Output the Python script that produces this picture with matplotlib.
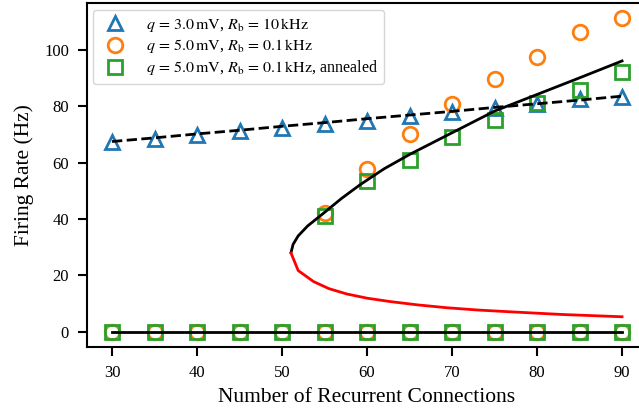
import matplotlib
matplotlib.use("Agg")
import matplotlib.pyplot as plt

plt.rcParams['font.family'] = ['Liberation Serif', 'DejaVu Serif']
plt.rcParams['mathtext.fontset'] = 'stix'

# connection counts where the simulations were run
n_conn = [30, 35, 40, 45, 50, 55, 60, 65, 70, 75, 80, 85, 90]

# q = 3.0 mV, Rb = 10 kHz
rate_a = [67.3, 68.5, 69.9, 71.1, 72.2, 73.6, 74.7, 76.5, 77.9, 79.5, 80.7, 82.5, 83.4]
theory_a = [67.5, 68.8, 70.2, 71.5, 72.9, 74.2, 75.6, 76.9, 78.2, 79.6, 80.9, 82.2, 83.6]

# q = 5.0 mV, Rb = 0.1 kHz (upper state, only above the fold)
n_high = [55, 60, 65, 70, 75, 80, 85, 90]
rate_b = [42.1, 57.8, 70.0, 80.9, 89.6, 97.6, 106.2, 111.5]
rate_c = [41.2, 53.4, 61.1, 69.2, 75.1, 81.0, 85.8, 92.0]
zeros = [0] * len(n_conn)

# fixed point branches
stable_x = [51.06, 51.3, 51.9, 53.0, 54.9, 57.0, 59.2, 62.0, 65.0, 70.0, 75.0, 80.0, 85.0, 90.0]
stable_y = [28.1, 31.0, 34.0, 37.5, 42.1, 47.3, 52.2, 57.8, 62.9, 70.6, 78.3, 84.2, 90.1, 96.1]
unstable_x = [51.06, 51.9, 53.7, 55.5, 57.6, 60.0, 62.7, 66.0, 69.4, 73.0, 77.2, 83.0, 90.0]
unstable_y = [27.9, 21.7, 17.8, 15.3, 13.4, 11.9, 10.7, 9.5, 8.5, 7.7, 7.0, 6.1, 5.3]

labels = [r'$q\,=\,3.0\,\mathrm{mV}$, $R_\mathrm{b}\,=\,10\,\mathrm{kHz}$',
          r'$q\,=\,5.0\,\mathrm{mV}$, $R_\mathrm{b}\,=\,0.1\,\mathrm{kHz}$',
          r'$q\,=\,5.0\,\mathrm{mV}$, $R_\mathrm{b}\,=\,0.1\,\mathrm{kHz}$, annealed']

fig = plt.figure(figsize=(6.39, 4.13), dpi=100)
ax = fig.add_axes([0.1354, 0.159, 0.878, 0.8333])

mk = dict(ms=10.5, mew=2, fillstyle='none', ls='none')
ax.plot(n_conn, rate_a, marker='^', color='#1f77b4', clip_on=False,
        label=labels[0], **mk)
ax.plot(n_conn + n_high, zeros + rate_b, marker='o', color='#ff7f0e',
        label=labels[1], **mk)
ax.plot(n_conn + n_high, zeros + rate_c, marker='s', color='#2ca02c',
        label=labels[2], **mk)

ax.plot(n_conn, theory_a, 'k--', lw=2)
ax.plot(n_conn, zeros, 'k-', lw=2)
ax.plot(stable_x, stable_y, 'k-', lw=2)
ax.plot(unstable_x, unstable_y, '-', color='red', lw=2)

ax.set_xlim(27, 93)
ax.set_ylim(-5.55, 116.6)
ax.set_xticks([30, 40, 50, 60, 70, 80, 90])
ax.set_yticks([0, 20, 40, 60, 80, 100])
ax.tick_params(labelsize=12, length=6.7, width=1.5, pad=6)
for s in ax.spines.values():
    s.set_linewidth(1.5)

ax.set_xlabel('Number of Recurrent Connections', fontsize=15.5, labelpad=5)
ax.set_ylabel('Firing Rate (Hz)', fontsize=15.5, labelpad=7)
ax.legend(loc='upper left', fontsize=11.5, borderpad=0.4, handletextpad=0.9,
          labelspacing=0.2, borderaxespad=0.4)

fig.savefig('out.png', dpi=100)
